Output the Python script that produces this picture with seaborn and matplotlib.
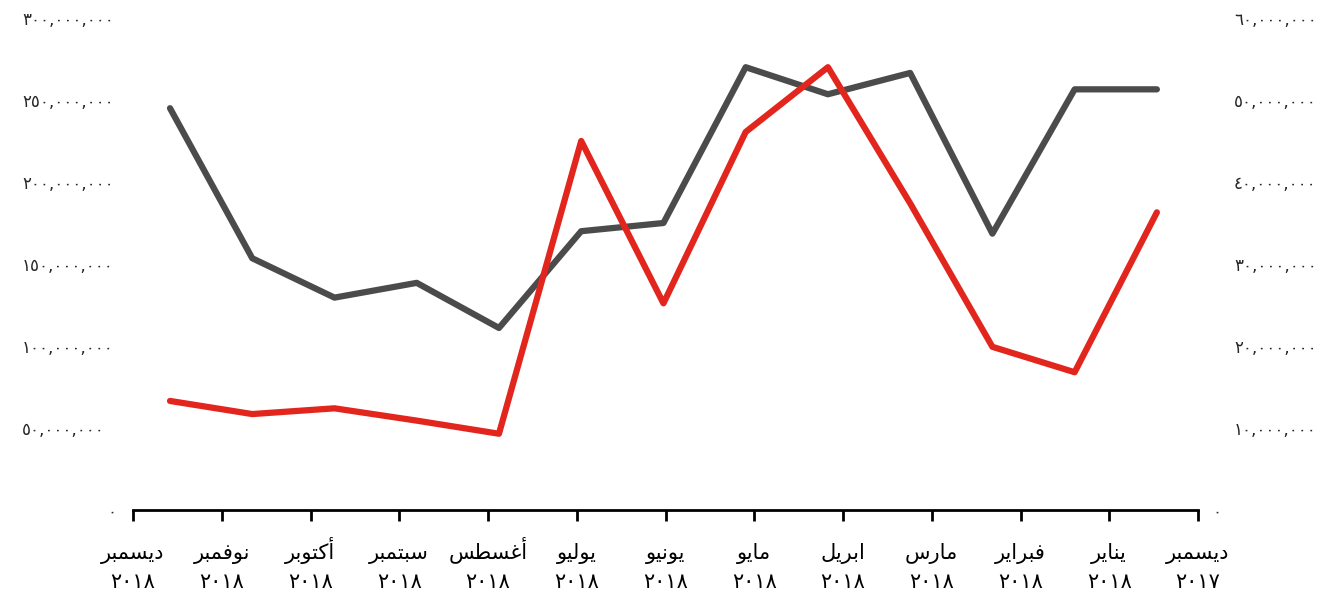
import matplotlib
matplotlib.use("Agg")
import matplotlib.pyplot as plt
import seaborn as sns
import numpy as np
import pandas as pd

sns.set_style("white")
plt.rcParams['font.family'] = ['DejaVu Sans']

# Data (left to right as shown)
months = ["ديسمبر", "نوفمبر", "أكتوبر", "سبتمبر", "أغسطس", "يوليو", "يونيو",
          "مايو", "ابريل", "مارس", "فبراير", "يناير", "ديسمبر"]
years = ["٢٠١٨"] * 12 + ["٢٠١٧"]
gray_values = [245e6, 153.5e6, 129.5e6, 138.5e6, 111e6, 170e6, 175e6,
               270e6, 253.5e6, 266.5e6, 168.5e6, 256.5e6, 256.5e6]
red_values = [13.3e6, 11.7e6, 12.4e6, 10.9e6, 9.3e6, 45e6, 25.2e6,
              46.1e6, 54e6, 37.4e6, 19.9e6, 16.8e6, 36.3e6]
left_ticks = [50e6, 100e6, 150e6, 200e6, 250e6, 300e6]
right_ticks = [10e6, 20e6, 30e6, 40e6, 50e6, 60e6]

GRAY = "#4b4b4b"
RED = "#e2261d"

# minimal arabic shaping (matplotlib has no RTL / joining support)
FORMS = {
    'ا': ('\uFE8D', '\uFE8E', None, None),
    'أ': ('\uFE83', '\uFE84', None, None),
    'ب': ('\uFE8F', '\uFE90', '\uFE91', '\uFE92'),
    'ت': ('\uFE95', '\uFE96', '\uFE97', '\uFE98'),
    'د': ('\uFEA9', '\uFEAA', None, None),
    'ر': ('\uFEAD', '\uFEAE', None, None),
    'س': ('\uFEB1', '\uFEB2', '\uFEB3', '\uFEB4'),
    'ط': ('\uFEC1', '\uFEC2', '\uFEC3', '\uFEC4'),
    'غ': ('\uFECD', '\uFECE', '\uFECF', '\uFED0'),
    'ف': ('\uFED1', '\uFED2', '\uFED3', '\uFED4'),
    'ك': ('\uFED9', '\uFEDA', '\uFEDB', '\uFEDC'),
    'ل': ('\uFEDD', '\uFEDE', '\uFEDF', '\uFEE0'),
    'م': ('\uFEE1', '\uFEE2', '\uFEE3', '\uFEE4'),
    'ن': ('\uFEE5', '\uFEE6', '\uFEE7', '\uFEE8'),
    'و': ('\uFEED', '\uFEEE', None, None),
    'ي': ('\uFEF1', '\uFEF2', '\uFEF3', '\uFEF4'),
}


def shape(word):
    out = []
    for i, ch in enumerate(word):
        if ch not in FORMS:
            out.append(ch)
            continue
        iso, fin, ini, med = FORMS[ch]
        prev = word[i - 1] if i > 0 else None
        nxt = word[i + 1] if i < len(word) - 1 else None
        jp = prev in FORMS and FORMS[prev][2] is not None
        jn = nxt in FORMS and ini is not None
        if jp and jn:
            out.append(med)
        elif jp:
            out.append(fin)
        elif jn:
            out.append(ini)
        else:
            out.append(iso)
    return ''.join(reversed(out))


AR_DIGITS = str.maketrans("0123456789", "٠١٢٣٤٥٦٧٨٩")


def fmt(v):
    return f"{int(v):,}".translate(AR_DIGITS)


df = pd.DataFrame({"idx": np.arange(len(months)), "gray": gray_values, "red": red_values})

fig = plt.figure(figsize=(13.39, 5.94), dpi=100)
W, H = 1339, 594
ax = fig.add_axes([133 / W, (H - 510) / H, (1198 - 133) / W, (510 - 18) / H])
ax2 = ax.twinx()

sns.lineplot(data=df, x="idx", y="gray", ax=ax, color=GRAY, linewidth=4.5)
sns.lineplot(data=df, x="idx", y="red", ax=ax2, color=RED, linewidth=4.5)

xlim = (-0.45, 12.5)
ax.set_xlim(*xlim)
ax.set_ylim(0, 300e6)
ax2.set_ylim(0, 60e6)

# month names as major labels, years as minor labels at the same spots
xt = np.linspace(xlim[0], xlim[1], len(months))
ax.xaxis.remove_overlapping_locs = False
ax.set_xticks(xt)
ax.set_xticklabels([shape(m) for m in months], fontsize=15, va="baseline")
ax.set_xticks(xt, minor=True)
ax.set_xticklabels(years, minor=True, fontsize=15, va="baseline")
ax.tick_params(axis="x", which="major", bottom=True, direction="out", length=8,
               width=2, color="black", pad=27, labelcolor="black")
ax.tick_params(axis="x", which="minor", bottom=True, length=0, pad=56,
               labelcolor="black")

ax.set_yticks(left_ticks)
ax.set_yticklabels([fmt(v) for v in left_ticks], ha="left", fontsize=12)
ax.set_yticks([0], minor=True)
ax.set_yticklabels(["٠"], minor=True, fontsize=12)
ax.tick_params(axis="y", which="major", length=0, pad=80)
ax.tick_params(axis="y", which="minor", length=0, pad=12)

ax2.set_yticks(right_ticks)
ax2.set_yticklabels([fmt(v) for v in right_ticks], fontsize=12)
ax2.set_yticks([0], minor=True)
ax2.set_yticklabels(["٠"], minor=True, fontsize=12)
ax2.tick_params(axis="y", which="major", length=0, pad=26)
ax2.tick_params(axis="y", which="minor", length=0, pad=10)

for a in (ax, ax2):
    a.set_xlabel("")
    a.set_ylabel("")
    for s in ("top", "left", "right", "bottom"):
        a.spines[s].set_visible(False)
    a.grid(False)
ax.spines["bottom"].set_visible(True)
ax.spines["bottom"].set_linewidth(2)
ax.spines["bottom"].set_color("black")

fig.savefig("out.png", dpi=100, facecolor="white")
